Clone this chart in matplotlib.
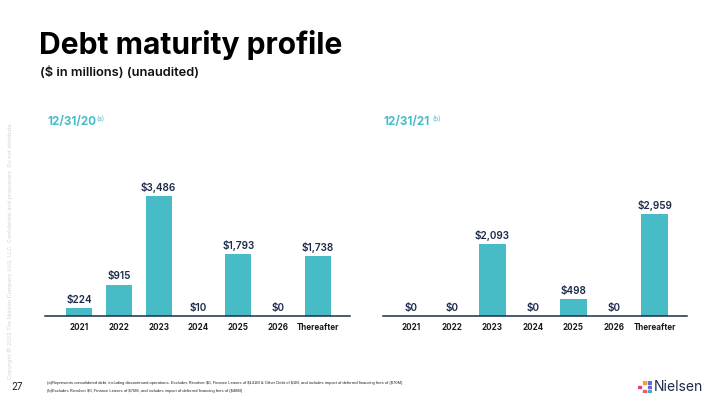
import matplotlib.pyplot as plt
from matplotlib.patches import Rectangle

plt.rcParams['font.family'] = ['Inter', 'DejaVu Sans']
plt.rcParams['text.parse_math'] = False

# === Data ($ in millions) ===
years = ["2021", "2022", "2023", "2024", "2025", "2026", "Thereafter"]
debt_2020 = [224, 915, 3486, 10, 1793, 0, 1738]
debt_2021 = [0, 0, 2093, 0, 498, 0, 2959]

TEAL = "#48bcc6"
NAVY = "#1c2b4a"

fig = plt.figure(figsize=(7.2, 4.05), dpi=100)


def draw_panel(rect, values, xlim):
    ax = fig.add_axes(rect)
    x = range(len(years))
    ax.bar(x, values, width=0.65, color=TEAL)
    for xi, v in zip(x, values):
        ax.text(xi, v + 90, f"${v:,}", ha="center", va="bottom",
                fontsize=7.2, fontweight="semibold", color=NAVY)
    ax.set_xlim(*xlim)
    ax.set_ylim(0, 4250)
    ax.set_xticks(list(x))
    ax.set_xticklabels(years, fontsize=5.8, fontweight="bold", color="#1a1a1a")
    ax.tick_params(axis="x", length=0, pad=5)
    ax.set_yticks([])
    for s in ["top", "right", "left"]:
        ax.spines[s].set_visible(False)
    ax.spines["bottom"].set_color(NAVY)
    ax.spines["bottom"].set_linewidth(1.1)
    ax.patch.set_alpha(0)
    return ax


draw_panel([45 / 720, 89 / 405, 305 / 720, 146 / 405], debt_2020, (-0.85, 6.8))
draw_panel([383 / 720, 89 / 405, 304 / 720, 146 / 405], debt_2021, (-0.7, 6.8))

# === Titles ===
fig.text(39 / 720, 1 - 45 / 405, "Debt maturity profile", fontsize=21.6,
         fontweight="bold", color="#000000", va="center")
fig.text(40 / 720, 1 - 73 / 405, "($ in millions) (unaudited)", fontsize=9.3,
         fontweight="semibold", color="#111111", va="center")

for x0, lbl, sup in [(47, "12/31/20", "(a)"), (383, "12/31/21", "(b)")]:
    fig.text(x0 / 720, 1 - 122 / 405, lbl, fontsize=8.4, fontweight="bold",
             color=TEAL, va="center")
    fig.text((x0 + 49) / 720, 1 - 119 / 405, sup, fontsize=4.6,
             color=TEAL, va="center")

# === Footer ===
narrow = ['Liberation Sans Narrow', 'Liberation Sans', 'DejaVu Sans']
fig.text(17 / 720, 1 - 387 / 405, "27", fontsize=7, color="#222222",
         va="center", ha="center")
fig.text(47 / 720, 1 - 383 / 405,
         "(a)Represents consolidated debt, including discontinued operations. "
         "Excludes Revolver $0, Finance Leases of $141M & Other Debt of $1M, "
         "and includes impact of deferred financing fees of ($70M)",
         fontsize=3.0, color="#222222", va="center", family=narrow)
fig.text(47 / 720, 1 - 391 / 405,
         "(b)Excludes Revolver $0, Finance Leases of $76M, and includes impact "
         "of deferred financing fees of ($48M)",
         fontsize=3.0, color="#222222", va="center", family=narrow)
fig.text(10 / 720, 1 - 250 / 405,
         "Copyright \u00a9 2022 The Nielsen Company (US), LLC. Confidential and "
         "proprietary. Do not distribute.",
         fontsize=4.0, color="#d4d4d4", rotation=90, va="center", ha="center")

# Nielsen logo: small coloured squares + word mark
logo = fig.add_axes([638 / 720, 1 - 393 / 405, 14 / 720, 12 / 405])
logo.set_xlim(0, 14)
logo.set_ylim(0, 12)
logo.axis("off")
for (lx, ly, c) in [(0, 4.7, "#e8407a"), (5, 9, "#f6a12b"), (5, 0.5, "#f05a5a"),
                    (10, 9, "#5b6ee0"), (10, 0.5, "#2fb8c9"), (10, 4.7, "#7a5ce0")]:
    logo.add_patch(Rectangle((lx, ly), 3, 2.6, color=c))
fig.text(654 / 720, 1 - 387 / 405, "Nielsen", fontsize=10, color=NAVY,
         va="center")

fig.savefig("out.png", dpi=100)
